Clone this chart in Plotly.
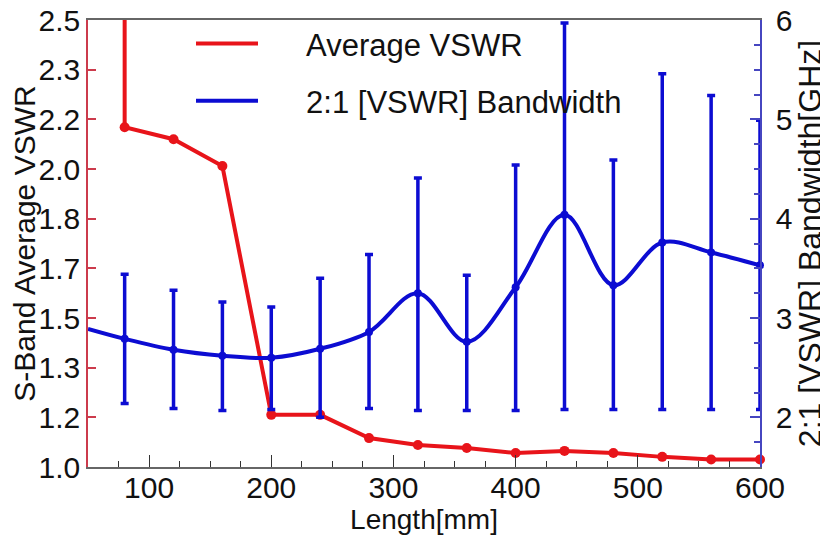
import plotly.graph_objects as go

# ---- data ----
length_mm = [80, 120, 160, 200, 240, 280, 320, 360, 400, 440, 480, 520, 560, 600]

# S-band average VSWR (left axis); the curve enters from above the frame at 80 mm
vswr_lead_len = [80]
vswr_lead_val = [2.7]
avg_vswr = [2.14, 2.10, 2.01, 1.175, 1.175, 1.097, 1.074, 1.064, 1.047, 1.054,
            1.047, 1.034, 1.025, 1.025]

# 2:1 VSWR bandwidth [GHz] (right axis)
bw_edge_len = [50]
bw_edge_val = [2.89]
bw_center = [2.79, 2.68, 2.62, 2.60, 2.69, 2.86, 3.25, 2.76, 3.31, 4.04, 3.33,
             3.76, 3.66, 3.53]
bw_upper = [3.44, 3.28, 3.16, 3.11, 3.40, 3.64, 4.41, 3.43, 4.54, 5.97, 4.59,
            5.46, 5.24, 4.99]
bw_lower = [2.14, 2.09, 2.07, 2.08, 2.00, 2.09, 2.07, 2.07, 2.07, 2.08, 2.08,
            2.08, 2.08, 2.08]

x_title = "Length[mm]"
y_title = "S-Band Average VSWR"
y2_title = "2:1 [VSWR] Bandwidth[GHz]"
name_vswr = "Average VSWR"
name_bw = "2:1 [VSWR] Bandwidth"

RED = "#e8141a"
BLUE = "#0c0cd2"
FONT = "Liberation Sans, Arial, sans-serif"
NB = "\u00a0"
PAD = NB * 5  # gap between legend line sample and its text

err_plus = [u - c for u, c in zip(bw_upper, bw_center)]
err_minus = [c - l for c, l in zip(bw_center, bw_lower)]

fig = go.Figure()

fig.add_trace(go.Scatter(
    x=vswr_lead_len + length_mm, y=vswr_lead_val + avg_vswr,
    mode="lines", name=PAD + name_vswr, legendgroup="a",
    line=dict(color=RED, width=4),
))
fig.add_trace(go.Scatter(
    x=length_mm, y=avg_vswr, mode="markers", showlegend=False,
    marker=dict(color=RED, size=10), cliponaxis=False,
))
fig.add_trace(go.Scatter(
    x=bw_edge_len + length_mm, y=bw_edge_val + bw_center,
    mode="lines", name=PAD + name_bw, legendgroup="b", yaxis="y2",
    line=dict(color=BLUE, width=4, shape="spline", smoothing=1.0),
))
fig.add_trace(go.Scatter(
    x=length_mm, y=bw_center, mode="markers", showlegend=False, yaxis="y2",
    marker=dict(color=BLUE, size=8), cliponaxis=False,
    error_y=dict(type="data", symmetric=False, array=err_plus,
                 arrayminus=err_minus, color=BLUE, thickness=3.5, width=4),
))

# the page adds an 8 px body margin, so the figure is 8 px smaller than the window
fig.update_layout(
    width=820, height=528,
    margin=dict(l=80, r=68, t=12, b=69, autoexpand=False),
    paper_bgcolor="white", plot_bgcolor="white",
    font=dict(family=FONT, color="#111111", size=30),
    showlegend=True,
    legend=dict(
        x=103 / 672, y=1.007, xanchor="left", yanchor="top",
        bgcolor="rgba(0,0,0,0)", font=dict(size=31, family=FONT),
        itemwidth=62, traceorder="grouped", tracegroupgap=14,
    ),
    xaxis=dict(
        range=[50, 600], tick0=0, dtick=100, automargin=False,
        ticklabelstandoff=-7, ticklabeloverflow="allow",
        ticks="inside", ticklen=12, tickwidth=1.2, tickcolor="#333333",
        minor=dict(dtick=25, tick0=0, ticks="inside", ticklen=6,
                   tickwidth=1.2, tickcolor="#333333"),
        showline=True, linecolor="#666666", linewidth=1.5, mirror=True,
        showgrid=False, zeroline=False,
        tickfont=dict(size=30, family=FONT),
        title=dict(text=x_title, font=dict(size=28, family=FONT), standoff=0),
    ),
    yaxis=dict(
        range=[1.0, 2.5], tick0=1.0, dtick=1.5 / 9, tickformat=".1f",
        automargin=False, ticklabeloverflow="allow",
        ticks="inside", ticklen=8, tickwidth=1.5, tickcolor="#cc3b4c",
        showline=True, linecolor="#cc3b4c", linewidth=1.5,
        showgrid=False, zeroline=False,
        tickfont=dict(size=30, family=FONT),
        title=dict(text=y_title + NB * 3, font=dict(size=30, family=FONT),
                   standoff=0),
    ),
    yaxis2=dict(
        range=[1.5, 6.0], tick0=0, dtick=1, overlaying="y", side="right",
        automargin=False, ticklabelstandoff=8, ticklabeloverflow="allow",
        ticks="inside", ticklen=10, tickwidth=1.5, tickcolor="#4646c0",
        minor=dict(dtick=0.25, ticks="inside", ticklen=6, tickwidth=1.5,
                   tickcolor="#4646c0"),
        showline=True, linecolor="#4646c0", linewidth=1.5,
        showgrid=False, zeroline=False,
        tickfont=dict(size=30, family=FONT),
        title=dict(text=NB + y2_title, font=dict(size=32, family=FONT),
                   standoff=0),
    ),
)

fig.write_html("out.html")
